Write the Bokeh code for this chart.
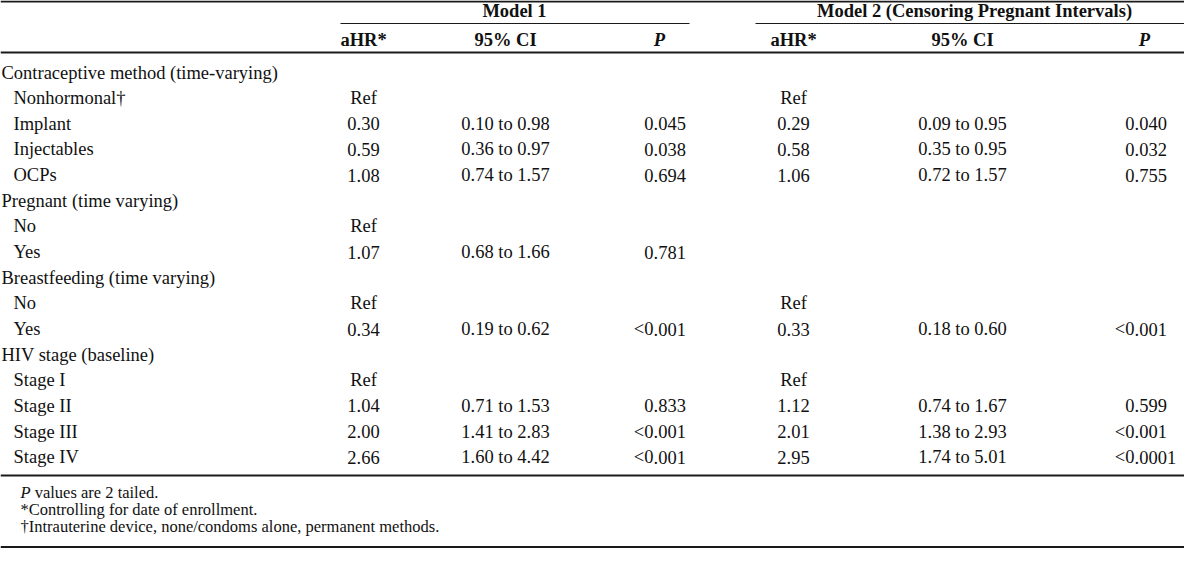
from bokeh.plotting import figure
from bokeh.models import Range1d, ColumnDataSource
from bokeh.core.properties import value
from bokeh.embed import file_html
from bokeh.resources import INLINE

# ---- data ----
row_labels = ["Contraceptive method (time-varying)", "Nonhormonal\u2020", "Implant", "Injectables", "OCPs",
              "Pregnant (time varying)", "No", "Yes",
              "Breastfeeding (time varying)", "No", "Yes",
              "HIV stage (baseline)", "Stage I", "Stage II", "Stage III", "Stage IV"]
row_is_group = [1, 0, 0, 0, 0, 1, 0, 0, 1, 0, 0, 1, 0, 0, 0, 0]
m1_ahr = ["", "Ref", "0.30", "0.59", "1.08", "", "Ref", "1.07", "", "Ref", "0.34", "", "Ref", "1.04", "2.00", "2.66"]
m1_ci = ["", "", "0.10 to 0.98", "0.36 to 0.97", "0.74 to 1.57", "", "", "0.68 to 1.66", "", "", "0.19 to 0.62",
         "", "", "0.71 to 1.53", "1.41 to 2.83", "1.60 to 4.42"]
m1_p = ["", "", "0.045", "0.038", "0.694", "", "", "0.781", "", "", "<0.001", "", "", "0.833", "<0.001", "<0.001"]
m2_ahr = ["", "Ref", "0.29", "0.58", "1.06", "", "", "", "", "Ref", "0.33", "", "Ref", "1.12", "2.01", "2.95"]
m2_ci = ["", "", "0.09 to 0.95", "0.35 to 0.95", "0.72 to 1.57", "", "", "", "", "", "0.18 to 0.60",
         "", "", "0.74 to 1.67", "1.38 to 2.93", "1.74 to 5.01"]
m2_p = ["", "", "0.040", "0.032", "0.755", "", "", "", "", "", "<0.001", "", "", "0.599", "<0.001", "<0.0001"]
model_titles = ["Model 1", "Model 2 (Censoring Pregnant Intervals)"]
col_headers = ["aHR*", "95% CI", "P"]
footnote_p = ["P", "values are 2 tailed."]
footnotes = ["*Controlling for date of enrollment.",
             "\u2020Intrauterine device, none/condoms alone, permanent methods."]

# ---- layout (reference pixel coordinates) ----
W, H = 1184, 548
FONT = value("Liberation Serif")
FS = "18.5px"
FN = 16.5
ROW0, STEP = 80, 25.65
row_y = [ROW0 + i * STEP for i in range(len(row_labels))]
label_x = [9 if g else 21 for g in row_is_group]

p = figure(width=W, height=H, output_backend="svg", toolbar_location=None,
           x_range=Range1d(8, 1192), y_range=Range1d(556, 8),
           x_axis_location=None, y_axis_location=None, min_border=0,
           outline_line_color=None, background_fill_color="white", border_fill_color="white")
p.grid.visible = False

def txt(x, y, t, size=FS, align="left", style="normal"):
    src = ColumnDataSource(dict(x=x, y=y, t=t))
    p.text("x", "y", text="t", source=src, text_font=FONT, text_font_size=size,
           text_align=align, text_baseline="middle", text_font_style=style, text_color="#111111")

def dec_col(xdec, vals):
    left = [v.split(".")[0] if "." in v else "" for v in vals]
    right = ["." + v.split(".")[1] if "." in v else "" for v in vals]
    txt([xdec] * len(vals), row_y, left, align="right")
    txt([xdec] * len(vals), row_y, right, align="left")

def hline(x0, x1, y, w):
    p.segment(x0=[x0], y0=[y], x1=[x1], y1=[y], line_color="#1a1a1a", line_width=w)

# rules
hline(8, 1192, 9, 2)
hline(348, 697, 31, 1.2)
hline(763, 1192, 31, 1.2)
hline(8, 1192, 60, 2)
hline(8, 1192, 483, 2)
hline(8, 1192, 555, 3)

# titles and column headers
txt([522, 982], [18.5, 18.5], model_titles, style="bold", align="center")
txt([371, 513, 801, 970], [47] * 4, [col_headers[0], col_headers[1], col_headers[0], col_headers[1]],
    style="bold", align="center")
txt([667, 1152], [47, 47], [col_headers[2], col_headers[2]], style="bold italic", align="center")

# body
txt(label_x, row_y, row_labels)
txt([371] * len(row_y), row_y, m1_ahr, align="center")
txt([513] * len(row_y), row_y, m1_ci, align="center")
dec_col(661, m1_p)
txt([801] * len(row_y), row_y, m2_ahr, align="center")
txt([970] * len(row_y), row_y, m2_ci, align="center")
dec_col(1142, m2_p)

# footnotes
txt([28], [500], [footnote_p[0]], size=f"{FN}px", style="italic")
txt([28 + 0.611 * FN + 0.25 * FN], [500], [footnote_p[1]], size=f"{FN}px")
txt([28, 28], [517, 534], footnotes, size=f"{FN}px")

html = file_html(p, INLINE)
open("out.html", "w").write(html)
